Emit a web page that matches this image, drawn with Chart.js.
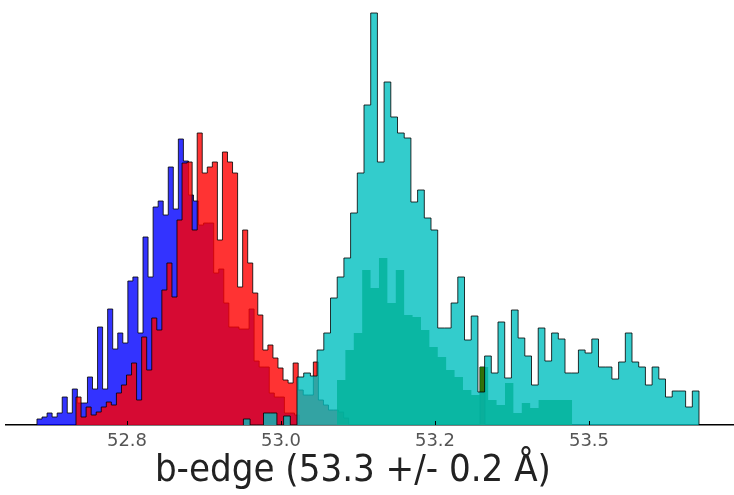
<!DOCTYPE html>
<html>
<head>
<meta charset="utf-8">
<script src="https://cdn.jsdelivr.net/npm/chart.js@4.4.0/dist/chart.umd.min.js"></script>
<style>
    html, body { margin: 0; padding: 0; background: #fff; }
    #wrap { width: 734px; height: 495px; }
</style>
</head>
<body>
<div id="wrap"><canvas id="edgeChart"></canvas></div>
<script>
// x ticks (the last label reads 53.5 in the original figure)
const tickValues = [52.8, 53.0, 53.2, 53.4];
const tickLabels = ['52.8', '53.0', '53.2', '53.5'];

// each histogram: first bin edge, bin width, counts per bin
const blueStart = 52.6831, blueWidth = 0.006558;
const blueCounts = [1.5, 2, 3, 2, 3, 7, 3, 9, 5.5, 5.5, 12, 9, 24.5, 9, 29, 19, 23, 20.5, 36, 37,
    23, 47, 37, 54.5, 56, 52.5, 64.5, 54, 71.5, 66, 57.5, 56, 50, 50.5, 50.5, 38, 39, 30.5, 24.5, 24.5,
    24, 24, 29, 16, 14.5, 14.5, 8, 7, 7, 3, 3, 2.5];

const redStart = 52.7338, redWidth = 0.006558;
const redCounts = [7, 2, 4.5, 2.5, 3.25, 4.5, 5.75, 5, 8, 10, 12.5, 15.5, 6.25, 22, 13.75, 26.75, 23.75, 33.75, 40.5, 32,
    51.25, 65.5, 65.75, 48.75, 73, 63, 64.5, 65.75, 46.25, 68.25, 65.75, 63, 34.5, 48.75, 40.5, 33, 27.5, 18.75, 20, 16.75,
    14.25, 11.25, 10.5, 15.5, 8.75, 7.5, 7.5, 15.75, 6.25, 5, 3.75, 3.75, 3.25, 1.75,
    0, 0, 0, 0, 0, 0, 0, 0, 0, 0, 0, 0, 0, 0, 0, 0, 0, 0, 0, 0, 0, 0, 0, 0, 0, 0, 14.5];

const greenStart = 53.0727, greenWidth = 0.010909;
const greenCounts = [11.25, 18.75, 23, 38.75, 34.25, 41.75, 30.5, 38.75, 27.5, 27, 23.75, 19.5, 17, 13.75, 12,
    8.75, 7.5, 14.5, 6.25, 5, 10.5, 3, 5.5, 4.25, 6.25, 6.25, 6.25, 6.25];

const cyanStart = 52.9512, cyanWidth = 0.008701;
const cyanCounts = [1.5, 0, 0, 3, 3, 0, 2.25, 0, 12, 13, 12.25, 18.75, 23, 31.75, 37, 41.75, 53, 63, 80, 103,
    65.75, 85.75, 77, 73, 71.75, 55.75, 58.75, 51.75, 48.75, 24.25, 24.25, 30.5, 37, 21.25, 27.25, 8.25, 17.25, 13, 25.75, 11.75,
    28.75, 21.75, 17.25, 10, 24.25, 16, 23, 21.5, 13, 13, 18.75, 18, 21.5, 14.5, 14.5, 11.5, 15.75, 23, 15.75, 14.5,
    10, 14.5, 11.5, 7, 8.5, 8.5, 4.5, 8.5];

// turn bins into a closed step outline: (e0,0), (e0,c0), (e1,c1) ... (en,0)
function histPoints(start, width, counts) {
    const pts = [{ x: start, y: 0 }];
    counts.forEach((c, i) => pts.push({ x: start + i * width, y: c }));
    pts.push({ x: start + counts.length * width, y: 0 });
    return pts;
}

function histDataset(label, start, width, counts, fillColor, edge, order) {
    return {
        label: label,
        data: histPoints(start, width, counts),
        stepped: true,
        fill: 'origin',
        backgroundColor: fillColor,
        borderColor: edge ? 'rgba(0,0,0,0.8)' : 'rgba(0,0,0,0)',
        borderWidth: edge ? 1 : 0,
        pointRadius: 0,
        tension: 0,
        order: order
    };
}

// small inward tick marks like the original axis
const inwardTicks = {
    id: 'inwardTicks',
    afterDatasetsDraw(chart) {
        const xs = chart.scales.x;
        const ctx = chart.ctx;
        ctx.save();
        ctx.strokeStyle = '#000';
        ctx.lineWidth = 1;
        tickValues.forEach(v => {
            const px = Math.round(xs.getPixelForValue(v)) + 0.5;
            ctx.beginPath();
            ctx.moveTo(px, chart.chartArea.bottom);
            ctx.lineTo(px, chart.chartArea.bottom - 4);
            ctx.stroke();
        });
        ctx.restore();
    }
};

const ctx = document.getElementById('edgeChart');
// eslint-disable-next-line no-undef
new Chart(ctx, {
    type: 'line',
    data: {
        datasets: [
            histDataset('c', cyanStart, cyanWidth, cyanCounts, 'rgba(0,191,191,0.8)', true, 0),
            histDataset('g', greenStart, greenWidth, greenCounts, 'rgba(0,128,0,0.8)', false, 1),
            histDataset('r', redStart, redWidth, redCounts, 'rgba(255,0,0,0.8)', true, 2),
            histDataset('b', blueStart, blueWidth, blueCounts, 'rgba(0,0,255,0.8)', true, 3)
        ]
    },
    options: {
        responsive: true,
        maintainAspectRatio: false,
        animation: false,
        layout: { padding: { left: 6, right: 0, top: 0, bottom: 0 } },
        plugins: {
            legend: { display: false },
            tooltip: { enabled: false }
        },
        scales: {
            x: {
                type: 'linear',
                min: 52.6429,
                max: 53.5883,
                afterBuildTicks: (scale) => { scale.ticks = tickValues.map(v => ({ value: v })); },
                afterFit: (scale) => { scale.height = 70; },
                ticks: {
                    autoSkip: false,
                    maxRotation: 0,
                    padding: 6,
                    color: '#555',
                    font: { family: 'DejaVu Sans', size: 18 },
                    callback: (value, index) => tickLabels[index]
                },
                grid: { drawOnChartArea: false, drawTicks: false },
                border: { display: true, color: '#000', width: 1.5 },
                title: {
                    display: true,
                    // trailing em space nudges the centred title left, as in the original
                    text: 'b-edge (53.3 +/- 0.2 Å)\u2003',
                    color: '#222',
                    font: { family: "'DejaVu Sans Condensed', 'DejaVu Sans'", size: 38 },
                    padding: { top: 0, bottom: 1 }
                }
            },
            y: {
                display: false,
                min: 0,
                max: 106.25
            }
        }
    },
    plugins: [inwardTicks]
});
</script>
</body>
</html>
